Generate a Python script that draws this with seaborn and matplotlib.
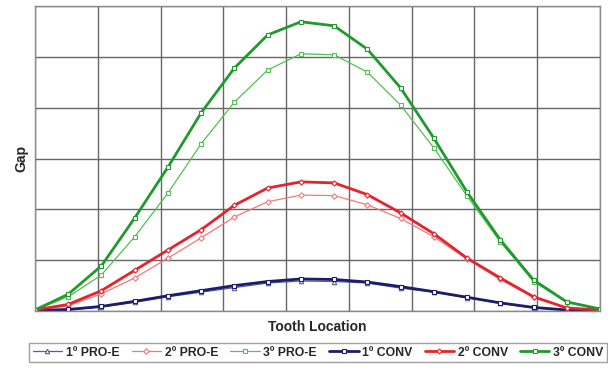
import numpy as np
import pandas as pd
import matplotlib
matplotlib.use("Agg")
import matplotlib.pyplot as plt
import seaborn as sns

# Tooth positions along the gear (18 sampled teeth)
tooth = list(range(18))

pro_e_1 = [0.01, 0.02, 0.08, 0.17, 0.28, 0.37, 0.46, 0.55, 0.59, 0.58, 0.55, 0.45, 0.37, 0.26, 0.15, 0.06, 0.02, 0.01]
pro_e_2 = [0.02, 0.10, 0.34, 0.65, 1.04, 1.44, 1.85, 2.15, 2.28, 2.27, 2.09, 1.82, 1.46, 1.02, 0.62, 0.27, 0.06, 0.02]
pro_e_3 = [0.02, 0.28, 0.71, 1.46, 2.32, 3.29, 4.11, 4.74, 5.06, 5.04, 4.70, 4.05, 3.21, 2.26, 1.36, 0.58, 0.17, 0.03]
conv_1 = [0.01, 0.03, 0.09, 0.19, 0.30, 0.40, 0.50, 0.58, 0.63, 0.62, 0.57, 0.48, 0.38, 0.27, 0.16, 0.07, 0.02, 0.01]
conv_2 = [0.02, 0.13, 0.40, 0.80, 1.20, 1.60, 2.08, 2.42, 2.54, 2.52, 2.29, 1.93, 1.52, 1.04, 0.65, 0.28, 0.06, 0.02]
conv_3 = [0.02, 0.33, 0.89, 1.83, 2.83, 3.90, 4.78, 5.43, 5.69, 5.61, 5.15, 4.39, 3.40, 2.34, 1.40, 0.61, 0.18, 0.04]

labels = ["1º PRO-E", "2º PRO-E", "3º PRO-E", "1º CONV", "2º CONV", "3º CONV"]
series = [pro_e_1, pro_e_2, pro_e_3, conv_1, conv_2, conv_3]

styles = {
    "1º PRO-E": dict(color="#5a5aa8", lw=0.9, marker="^", ms=3.2),
    "2º PRO-E": dict(color="#f27878", lw=0.9, marker="D", ms=2.8),
    "3º PRO-E": dict(color="#52c052", lw=0.9, marker="s", ms=3.5),
    "1º CONV": dict(color="#1c1c6a", lw=2.0, marker="s", ms=3.2),
    "2º CONV": dict(color="#e8222c", lw=2.0, marker="D", ms=2.6),
    "3º CONV": dict(color="#1f9a2c", lw=2.0, marker="s", ms=3.5),
}

df = pd.DataFrame({
    "tooth": tooth * len(labels),
    "gap": [v for s in series for v in s],
    "series": [lab for lab in labels for _ in tooth],
})

sns.set_theme(style="white")
plt.rcParams["font.family"] = ["Liberation Sans", "DejaVu Sans"]

fig = plt.figure(figsize=(6.08, 3.69), dpi=100)
ax = fig.add_axes([35 / 608, 1 - 311 / 369, 565 / 608, 305 / 369])

for lab in labels:
    st = styles[lab]
    sns.lineplot(
        data=df[df["series"] == lab], x="tooth", y="gap", ax=ax,
        color=st["color"], linewidth=st["lw"], marker=st["marker"],
        markersize=st["ms"], markerfacecolor="white",
        markeredgecolor=st["color"], markeredgewidth=0.8, label=lab,
    )

ax.set_xlim(0, 17)
ax.set_ylim(0, 6)
ax.set_xticks(np.linspace(0, 17, 10))
ax.set_yticks(np.arange(0, 7, 1))
ax.set_xticklabels([])
ax.set_yticklabels([])
ax.tick_params(length=0)
ax.grid(True, color="#666666", linewidth=1.0)
ax.set_axisbelow(True)
for sp in ax.spines.values():
    sp.set_color("#8a8a8a")
    sp.set_linewidth(1.0)

ax.set_xlabel("Tooth Location", fontsize=10, fontweight="bold", labelpad=3)
ax.set_ylabel("Gap", fontsize=10, fontweight="bold", labelpad=1)

handles, lbls = ax.get_legend_handles_labels()
ax.get_legend().remove()
leg = fig.legend(
    handles, lbls, loc="center", bbox_to_anchor=(318 / 608, 1 - 352.5 / 369),
    ncol=6, frameon=True, fancybox=False, edgecolor="#8a8a8a",
    handlelength=2.4, handletextpad=0.3, columnspacing=1.0, borderpad=0.3,
    prop={"weight": "bold", "size": 8.8},
)
leg.get_frame().set_linewidth(1.0)

fig.savefig("out.png", dpi=100)
